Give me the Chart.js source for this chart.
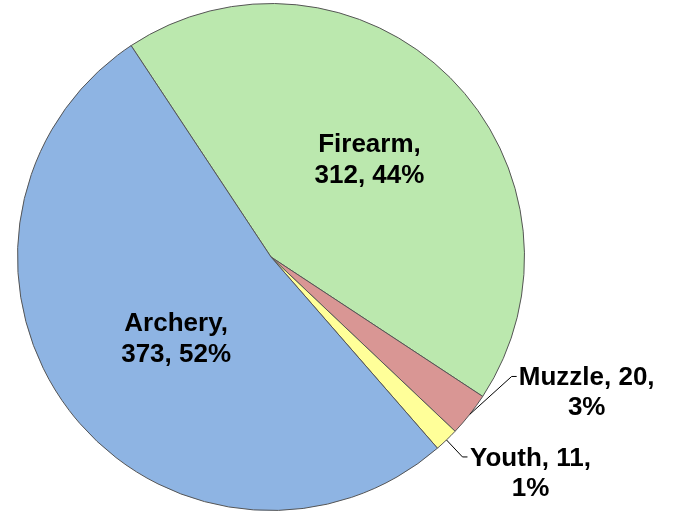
<!DOCTYPE html>
<html>
<head>
<meta charset="utf-8">
<script src="https://cdn.jsdelivr.net/npm/chart.js@4/dist/chart.umd.min.js"></script>
<style>
  html, body { margin: 0; padding: 0; background: #fff; }
  #wrap { width: 673px; height: 512px; }
</style>
</head>
<body>
<div id="wrap"><canvas id="chart"></canvas></div>
<script>
const categories = ["Firearm", "Muzzle", "Youth", "Archery"];
const counts = [312, 20, 11, 373];
const percents = ["44%", "3%", "1%", "52%"];

const green = "#BBE8AE";
const red = "#D99694";
const yellow = "#FFFF99";
const blue = "#8EB4E3";

// where each label goes: inside at a fraction of the radius, or outside with a leader line
const labelStyle = [
  { inside: true, dist: 0.55, dx: 0, dy: 0 },
  { inside: false, elbow: [42, -38], text: [75, 0] },
  { inside: false, elbow: [16, 17], text: [68, 0] },
  { inside: true, dist: 0.52, dx: 10, dy: 0 },
];

const sliceLabels = {
  id: "sliceLabels",
  afterDatasetsDraw(chart) {
    const ctx = chart.ctx;
    const meta = chart.getDatasetMeta(0);
    ctx.save();
    ctx.font = "bold 26px 'Liberation Sans', Arial, sans-serif";
    ctx.fillStyle = "#000";
    ctx.textAlign = "center";
    ctx.textBaseline = "alphabetic";
    meta.data.forEach((arc, i) => {
      const p = arc.getProps(["x", "y", "startAngle", "endAngle", "outerRadius"], true);
      const mid = (p.startAngle + p.endAngle) / 2;
      const s = labelStyle[i];
      const line1 = categories[i] + ", " + (s.inside ? "" : counts[i] + ",");
      const line2 = s.inside ? counts[i] + ", " + percents[i] : percents[i];
      if (s.inside) {
        const cx = p.x + Math.cos(mid) * p.outerRadius * s.dist + s.dx;
        const cy = p.y + Math.sin(mid) * p.outerRadius * s.dist + s.dy;
        ctx.fillText(line1.trim(), cx, cy - 6);
        ctx.fillText(line2, cx, cy + 25);
      } else {
        const ex = p.x + Math.cos(mid) * p.outerRadius;
        const ey = p.y + Math.sin(mid) * p.outerRadius;
        const bx = ex + s.elbow[0];
        const by = ey + s.elbow[1];
        ctx.strokeStyle = "#000";
        ctx.lineWidth = 1;
        ctx.beginPath();
        ctx.moveTo(ex, ey);
        ctx.lineTo(bx, by);
        ctx.lineTo(bx + 5, by);
        ctx.stroke();
        const tx = bx + s.text[0];
        ctx.fillText(line1, tx, by + 9);
        ctx.fillText(line2, tx, by + 39);
      }
    });
    ctx.restore();
  },
};

new Chart("chart", {
  type: "pie",
  data: {
    labels: categories,
    datasets: [
      {
        data: counts,
        backgroundColor: [green, red, yellow, blue],
        borderColor: "#555555",
        borderWidth: 1,
      },
    ],
  },
  options: {
    responsive: true,
    maintainAspectRatio: false,
    animation: false,
    rotation: -33.5,
    layout: {
      padding: { left: 17, right: 148, top: 3, bottom: 1 },
    },
    plugins: {
      legend: { display: false },
      tooltip: { enabled: false },
    },
  },
  plugins: [sliceLabels],
});
</script>
</body>
</html>
